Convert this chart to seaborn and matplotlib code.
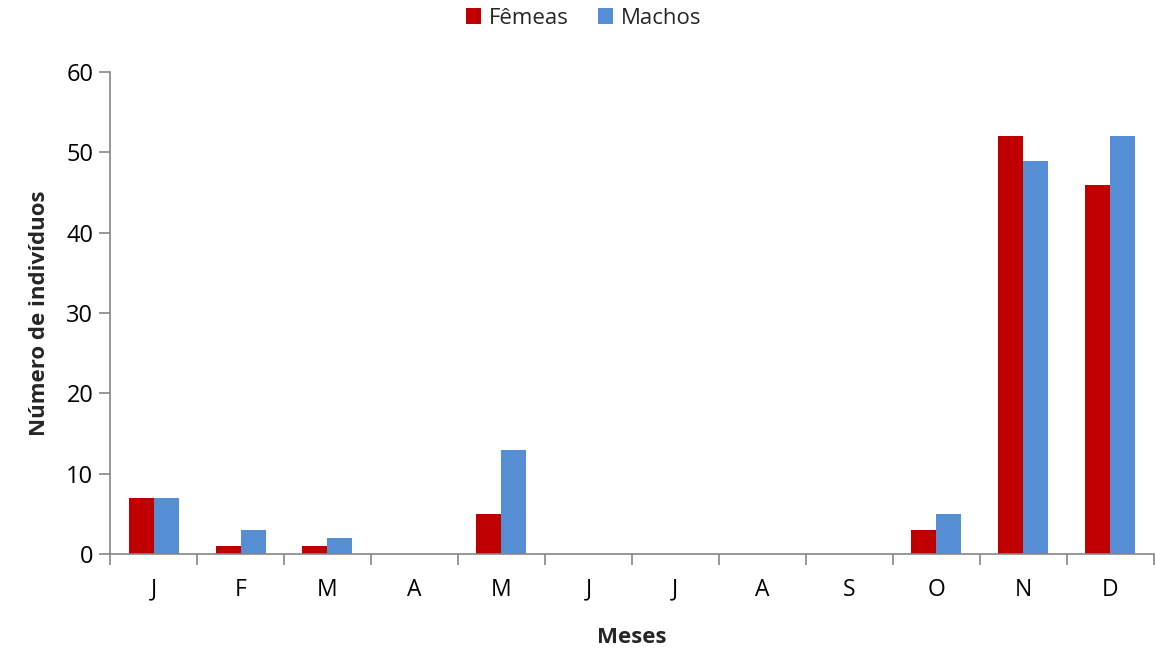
import matplotlib
matplotlib.use("Agg")
import matplotlib.pyplot as plt
import seaborn as sns
import pandas as pd
import numpy as np

meses = ["J", "F", "M", "A", "M", "J", "J", "A", "S", "O", "N", "D"]
femeas = [7, 1, 1, 0, 5, 0, 0, 0, 0, 3, 52, 46]
machos = [7, 3, 2, 0, 13, 0, 0, 0, 0, 5, 49, 52]
series = ["Fêmeas", "Machos"]
cores = ["#C00000", "#558ED5"]

sns.set_theme(style="white")
plt.rcParams['font.family'] = ['Open Sans', 'DejaVu Sans']

idx = list(range(len(meses)))
df = pd.DataFrame({
    "pos": idx * 2,
    "valor": femeas + machos,
    "sexo": [series[0]] * len(meses) + [series[1]] * len(meses),
})

fig = plt.figure(figsize=(11.56, 6.62), dpi=100)
ax = fig.add_axes([0.0952, 0.163, 0.9028, 0.728])
sns.barplot(data=df, x="pos", y="valor", hue="sexo", hue_order=series,
            palette=cores, saturation=1, width=0.575, gap=0, linewidth=0, ax=ax)

ax.set_xlim(-0.5, len(meses) - 0.5)
ax.set_ylim(0, 60)
ax.set_yticks(range(0, 61, 10))
ax.set_xticks(idx)
ax.set_xticklabels(meses)
ax.set_xticks(np.arange(-0.5, len(meses), 1.0), minor=True)

grey = "#868686"
for s in ["top", "right"]:
    ax.spines[s].set_visible(False)
for s in ["left", "bottom"]:
    ax.spines[s].set_color(grey)
    ax.spines[s].set_linewidth(1.2)

ax.tick_params(axis="x", which="major", length=0, pad=17, labelsize=16.5, colors="black")
ax.tick_params(axis="x", which="minor", length=8, width=1.2, color=grey, direction="out", bottom=True)
ax.tick_params(axis="y", which="major", length=8, width=1.2, color=grey, direction="out", left=True,
               labelsize=17, labelcolor="black", pad=4)

ax.set_xlabel("Meses", fontsize=16, fontweight="bold", labelpad=18)
ax.set_ylabel("Número de indivíduos", fontsize=16, fontweight="bold", labelpad=12)

handles, labels = ax.get_legend_handles_labels()
ax.get_legend().remove()
fig.legend(handles, labels, loc="center", bbox_to_anchor=(0.505, 0.972), ncol=2, frameon=False,
           fontsize=16, handlelength=0.7, handleheight=0.7, handletextpad=0.35, columnspacing=1.3)

fig.savefig("out.png", dpi=100)
